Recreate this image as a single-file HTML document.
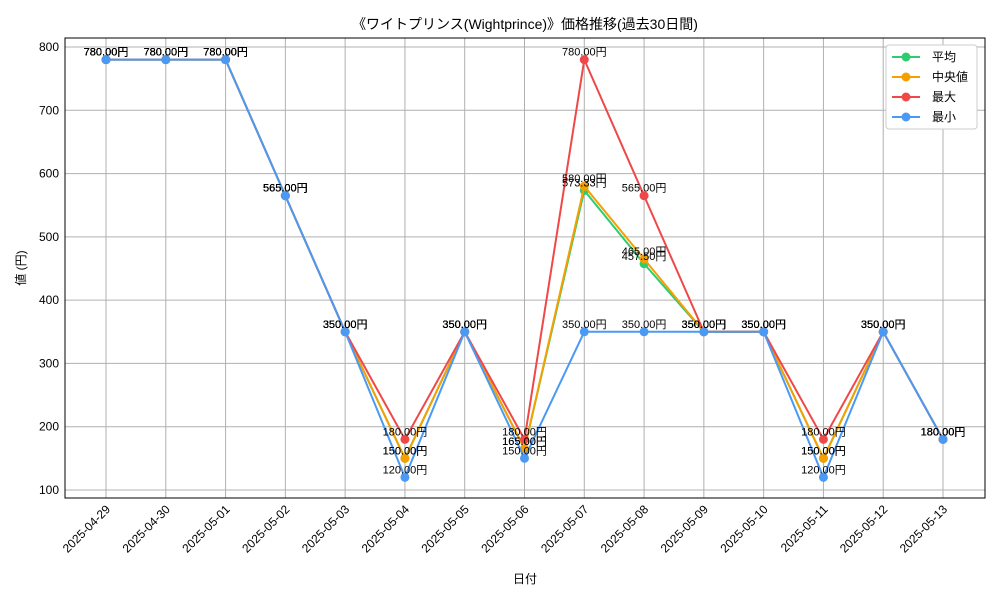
<!DOCTYPE html>
<html><head><meta charset="utf-8"><style>
body{margin:0;background:#fff}
text{font-family:"Liberation Sans","Noto Sans CJK JP",sans-serif}
</style></head><body>
<svg id="c" width="1000" height="600" xmlns="http://www.w3.org/2000/svg"></svg>
<script>
const categories=["2025-04-29","2025-04-30","2025-05-01","2025-05-02","2025-05-03","2025-05-04","2025-05-05","2025-05-06","2025-05-07","2025-05-08","2025-05-09","2025-05-10","2025-05-11","2025-05-12","2025-05-13"];
const avgValues=[780,780,780,565,350,150,350,165,573.33,457.5,350,350,150,350,180];
const medianValues=[780,780,780,565,350,150,350,165,580,465,350,350,150,350,180];
const maxValues=[780,780,780,565,350,180,350,180,780,565,350,350,180,350,180];
const minValues=[780,780,780,565,350,120,350,150,350,350,350,350,120,350,180];
const yTicks=[100,200,300,400,500,600,700,800];
const seriesNames=["平均","中央値","最大","最小"];

const svg=document.getElementById('c');
const NS="http://www.w3.org/2000/svg";
const L=65,R=985,T=38,B=498;
function X(i){return 106+i*(943-106)/(categories.length-1);}
function Y(v){return 490-(v-100)*(490-47)/700;}
function mk(tag,attrs,parent){const e=document.createElementNS(NS,tag);for(const k in attrs)e.setAttribute(k,attrs[k]);(parent||svg).appendChild(e);return e;}

const grid=mk('g',{});


yTicks.forEach(v=>{const l=mk('line',{x1:L,x2:R,y1:Y(v),y2:Y(v),stroke:'#b0b0b0','stroke-width':1},grid);


const t=mk('text',{x:L-6,y:Y(v)+4,'text-anchor':'end','font-size':12});t.textContent=v;

});
categories.forEach((c,i)=>{const l=mk('line',{x1:X(i),x2:X(i),y1:T,y2:B,stroke:'#b0b0b0','stroke-width':1},grid);


const t=mk('text',{x:X(i)+5,y:B+12,'text-anchor':'end','font-size':12,transform:`rotate(-45 ${X(i)+5} ${B+12})`});t.textContent=c;

});
const frame=mk('rect',{x:L,y:T,width:R-L,height:B-T,fill:'none',stroke:'#000','stroke-width':1});



const series=[[avgValues,'#2ecc71'],[medianValues,'#f5a000'],[maxValues,'#f04848'],[minValues,'#4a9af5']];
const labelsG=mk('g',{});
series.forEach(([vals,col],s)=>{
 const g=mk('g',{});
 
 
 const p=mk('polyline',{points:vals.map((v,i)=>X(i)+','+Y(v)).join(' '),fill:'none',stroke:col,'stroke-width':2},g);
 
 
 vals.forEach((v,i)=>{const c=mk('circle',{cx:X(i),cy:Y(v),r:4.5,fill:col},g);
 
 
 const t=mk('text',{x:X(i),y:Y(v)-4,'text-anchor':'middle','font-size':11},labelsG);t.textContent=v.toFixed(2)+'円';
 
 });
});
svg.appendChild(labelsG);

const title=mk('text',{x:525,y:29,'text-anchor':'middle','font-size':14});title.textContent='《ワイトプリンス(Wightprince)》価格推移(過去30日間)';


const xt=mk('text',{x:525,y:583,'text-anchor':'middle','font-size':12});xt.textContent='日付';


const yt=mk('text',{x:25,y:268,'text-anchor':'middle','font-size':12,transform:'rotate(-90 25 268)'});yt.textContent='値 (円)';



const lg=mk('g',{});


mk('rect',{x:886,y:45,width:91,height:84,rx:3,fill:'#fff',stroke:'#ccc'},lg);
series.forEach(([v,col],s)=>{const y=57+s*20;
 const e=mk('g',{},lg);
 
 
 mk('line',{x1:892,x2:920,y1:y,y2:y,stroke:col,'stroke-width':2},e);
 mk('circle',{cx:906,cy:y,r:4.5,fill:col},e);
 const t=mk('text',{x:932,y:y+4,'font-size':12},e);t.textContent=seriesNames[s];});
</script>
</body></html>
